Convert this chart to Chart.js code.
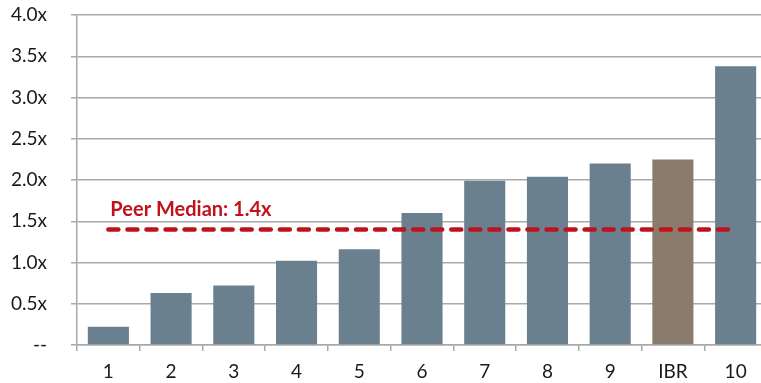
<!DOCTYPE html>
<html>
<head>
<meta charset="utf-8">
<script src="https://cdn.jsdelivr.net/npm/chart.js@4/dist/chart.umd.min.js"></script>
<style>
  html, body { margin: 0; padding: 0; background: #fff; overflow: hidden; }
  #wrap { position: relative; width: 770px; height: 383px; }
</style>
</head>
<body>
<div id="wrap"><canvas id="chart"></canvas></div>
<script>
// Multiples by company, with the peer median drawn as a dashed reference line
const categories = ['1', '2', '3', '4', '5', '6', '7', '8', '9', 'IBR', '10'];
const multiples  = [0.22, 0.63, 0.72, 1.02, 1.16, 1.60, 1.99, 2.04, 2.20, 2.25, 3.38];
const peerMedian = 1.4;
const medianLabel = 'Peer Median: 1.4x';
const yTickLabels = ['--', '0.5x', '1.0x', '1.5x', '2.0x', '2.5x', '3.0x', '3.5x', '4.0x'];

const SLATE = '#6a808e';
const TAUPE = '#8a7c6d';
const RED = '#c0121d';
const GRID = '#a9a9a9';
const FONT = 'Lato, "Open Sans", sans-serif';

// Caption written just above the start of the median line
const medianCaption = {
  id: 'medianCaption',
  afterDatasetsDraw(chart) {
    const { ctx, scales: { x, y } } = chart;
    ctx.save();
    ctx.font = 'bold 20px ' + FONT;
    ctx.fillStyle = RED;
    ctx.textAlign = 'left';
    ctx.textBaseline = 'alphabetic';
    ctx.fillText(medianLabel, x.getPixelForValue(0) + 2, y.getPixelForValue(peerMedian) - 14);
    ctx.restore();
  }
};

new Chart(document.getElementById('chart'), {
  data: {
    labels: categories,
    datasets: [
      {
        type: 'line',
        data: categories.map(() => peerMedian),
        borderColor: RED,
        borderWidth: 4.5,
        borderDash: [10, 9.05],
        borderCapStyle: 'round',
        pointRadius: 0,
        fill: false,
        order: 0
      },
      {
        type: 'bar',
        data: multiples,
        backgroundColor: ctx => categories[ctx.dataIndex] === 'IBR' ? TAUPE : SLATE,
        categoryPercentage: 1,
        barPercentage: 0.655,
        order: 1
      }
    ]
  },
  options: {
    responsive: true,
    maintainAspectRatio: false,
    animation: false,
    layout: { padding: { top: 15, right: 3, bottom: 0, left: 0 } },
    plugins: { legend: { display: false }, tooltip: { enabled: false } },
    scales: {
      x: {
        offset: true,
        grid: { drawOnChartArea: false, drawTicks: true, tickLength: 6, color: GRID, lineWidth: 1.5, offset: true },
        border: { color: GRID, width: 1.5 },
        ticks: { color: '#1a1a1a', font: { family: FONT, size: 19 }, padding: 9, maxRotation: 0 },
        afterFit(scale) { scale.height = 38; }
      },
      y: {
        min: 0,
        max: 4,
        grid: { color: GRID, lineWidth: 1.5, tickLength: 6 },
        border: { color: GRID, width: 1.5 },
        ticks: {
          stepSize: 0.5,
          color: '#1a1a1a',
          font: { family: FONT, size: 19 },
          padding: 24,
          callback: (v, i) => yTickLabels[i]
        },
        afterFit(scale) {
          scale.width = 77;
          scale.paddingTop = 0;
          scale.paddingBottom = 0;
        }
      }
    }
  },
  plugins: [medianCaption]
});
</script>
</body>
</html>
